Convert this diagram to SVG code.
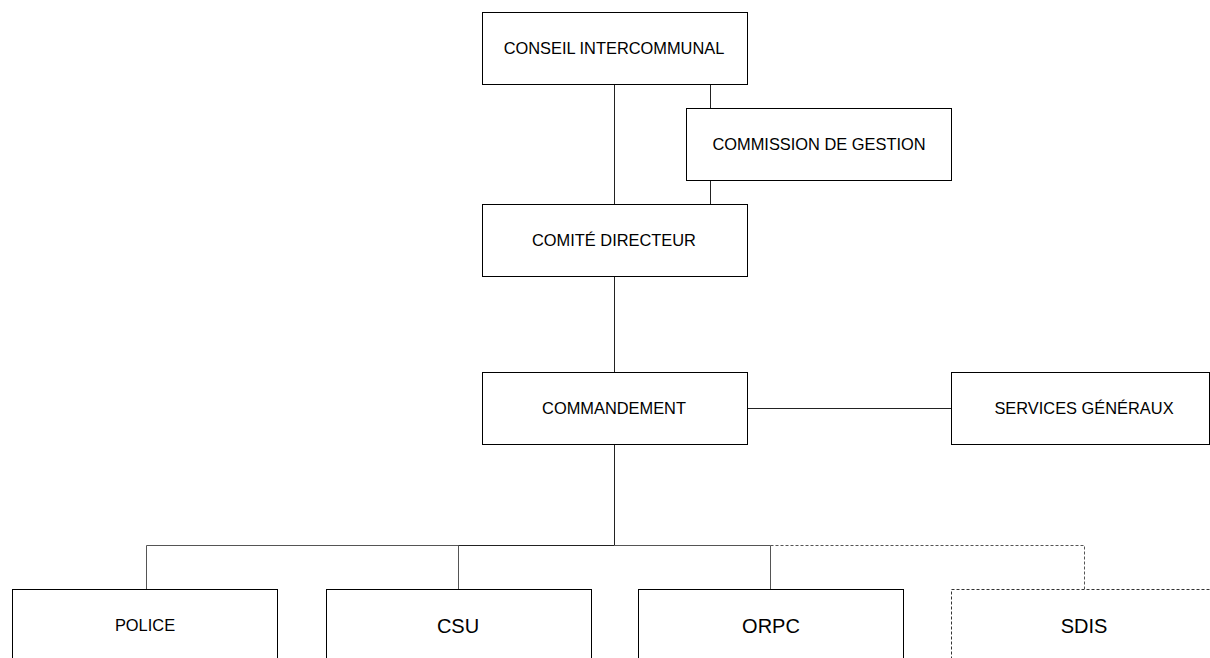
<svg xmlns="http://www.w3.org/2000/svg" width="1210" height="658" viewBox="0 0 1210 658">
<style>
.box{fill:#fff;stroke:#000;stroke-width:1}
.dbox{fill:#fff;stroke:#333;stroke-width:1;stroke-dasharray:3,2}
.t{font-family:"Liberation Sans",Arial,sans-serif;font-size:16.4px;fill:#000;text-anchor:middle}
.tl{font-family:"Liberation Sans",Arial,sans-serif;font-size:20px;fill:#000;text-anchor:middle}
.c{fill:none;stroke:#222;stroke-width:1}
.cg{fill:none;stroke:#555;stroke-width:1}
.cd{fill:none;stroke:#555;stroke-width:1;stroke-dasharray:3,2}
</style>
<rect width="1210" height="658" fill="#fff"/>
<g id="connectors">
<path class="c" d="M614.5 84V204"/>
<path class="c" d="M710.5 84V108"/>
<path class="c" d="M710.5 180V204"/>
<path class="c" d="M614.5 276V372"/>
<path class="c" d="M747 408.5H951"/>
<path class="c" d="M614.5 444V545.5H458"/>
<path class="cg" d="M458.5 545.5H146.5V589"/>
<path class="cg" d="M458.5 545.5V589"/>
<path class="cg" d="M614.5 545.5H770.5V589"/>
<path class="cd" d="M770.5 545.5H1084.5V589"/>
</g>
<g id="conseil">
<rect class="box" x="482.5" y="12.5" width="265" height="72"/>
<text class="t" x="614" y="54">CONSEIL INTERCOMMUNAL</text>
</g>
<g id="commission">
<rect class="box" x="686.5" y="108.5" width="265" height="72"/>
<text class="t" x="819" y="150">COMMISSION DE GESTION</text>
</g>
<g id="comite">
<rect class="box" x="482.5" y="204.5" width="265" height="72"/>
<text class="t" x="614" y="246">COMITÉ DIRECTEUR</text>
</g>
<g id="commandement">
<rect class="box" x="482.5" y="372.5" width="265" height="72"/>
<text class="t" x="614" y="414">COMMANDEMENT</text>
</g>
<g id="services">
<rect class="box" x="951.5" y="372.5" width="258" height="72"/>
<text class="t" x="1084" y="414">SERVICES GÉNÉRAUX</text>
</g>
<g id="police">
<rect class="box" x="12.5" y="589.5" width="265" height="80"/>
<text class="t" x="145" y="631">POLICE</text>
</g>
<g id="csu">
<rect class="box" x="326.5" y="589.5" width="265" height="80"/>
<text class="tl" x="458" y="633">CSU</text>
</g>
<g id="orpc">
<rect class="box" x="638.5" y="589.5" width="265" height="80"/>
<text class="tl" x="771" y="633">ORPC</text>
</g>
<g id="sdis">
<rect class="dbox" x="951.5" y="589.5" width="270" height="80"/>
<text class="tl" x="1084" y="633">SDIS</text>
</g>
</svg>
